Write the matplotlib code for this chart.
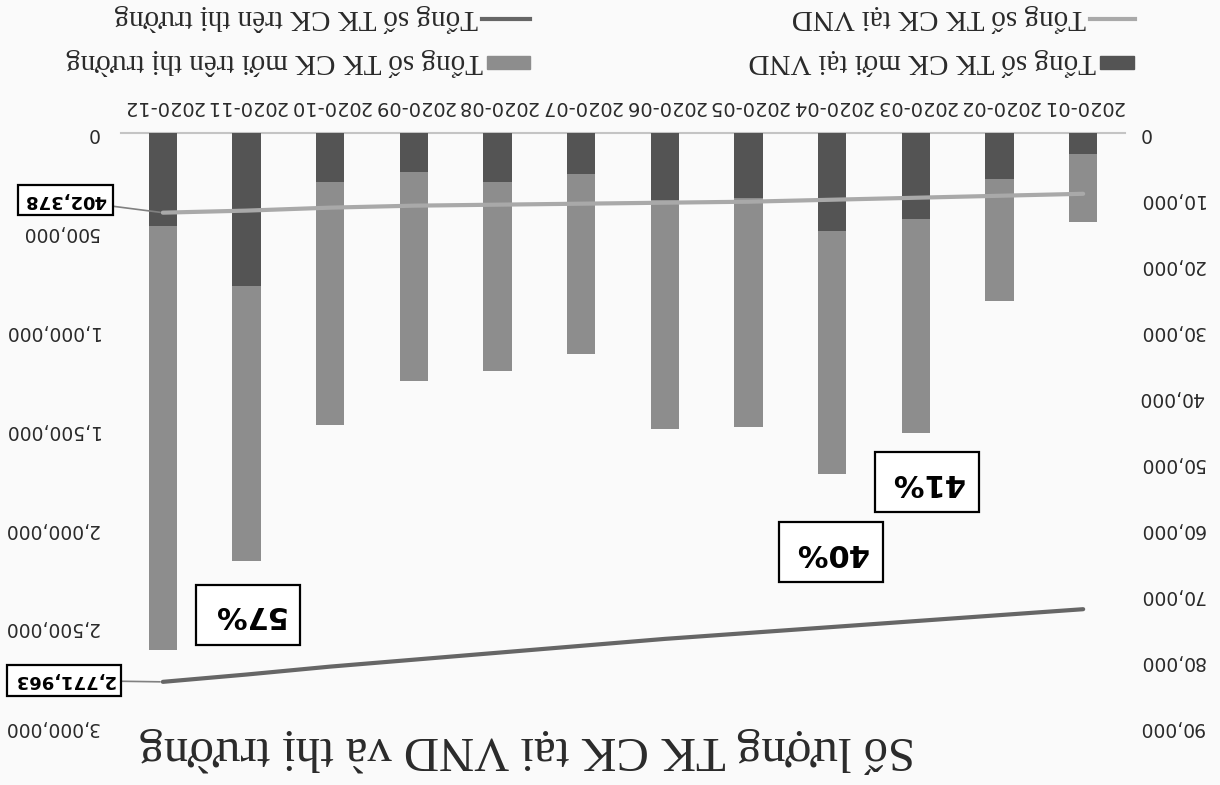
"""Số lượng TK CK tại VND và thị trường - scanned chart, drawn upside down like the scan."""

import matplotlib
matplotlib.use("Agg")
import matplotlib.pyplot as plt
from matplotlib.patches import Rectangle
from matplotlib.lines import Line2D
from matplotlib.ticker import FuncFormatter
import numpy as np

# Data
months = ["2020-01", "2020-02", "2020-03", "2020-04", "2020-05", "2020-06",
          "2020-07", "2020-08", "2020-09", "2020-10", "2020-11", "2020-12"]
new_vnd = [3200, 7000, 13000, 14900, 9800, 10200, 6200, 7400, 5900, 7400, 23200, 14100]
new_market = [13500, 25500, 45400, 51700, 44500, 44900, 33500, 36000, 37600, 44300, 64900, 78300]
total_vnd = [307000, 317000, 327000, 337000, 347000, 352000,
             357000, 362000, 367000, 377000, 392000, 402378]
total_market = [2405000, 2435000, 2465000, 2495000, 2525000, 2555000,
                2590000, 2625000, 2660000, 2695000, 2735000, 2771963]
share_labels = ["57%", "40%", "41%"]

legend_labels = ["Tổng số TK CK mới tại VND", "Tổng số TK CK mới trên thị trường",
                 "Tổng số TK CK tại VND", "Tổng số TK CK trên thị trường"]
title = "Số lượng TK CK tại VND và thị trường"

C_DARK = "#545454"
C_LIGHT = "#8d8d8d"
C_LINE_VND = "#a9a9a9"
C_LINE_MKT = "#666666"
TXT = "#2a2a2a"
BG = "#fafafa"

W, H = 1220, 785


def fx(px):
    return px / W


def fy(py):
    # image y (from top) -> figure fraction
    return (H - py) / H


fig = plt.figure(figsize=(12.2, 7.85), dpi=100, facecolor=BG)
ax = fig.add_axes([fx(121), fy(727), fx(1125) - fx(121), fy(133) - fy(727)])
ax.set_facecolor(BG)
ax2 = ax.twinx()

x = np.arange(len(months))
bw = 0.335

# The whole chart is turned 180 degrees, as in the scan
ax.bar(x, new_market, width=bw, color=C_LIGHT, zorder=2)
ax.bar(x, new_vnd, width=bw, color=C_DARK, zorder=3)
ax.set_xlim(11.5, -0.5)
ax.set_ylim(90000, 0)
ax.set_yticks(np.arange(0, 90001, 10000))

ax2.plot(x, total_vnd, color=C_LINE_VND, lw=3.0, solid_capstyle="round")
ax2.plot(x, total_market, color=C_LINE_MKT, lw=3.0, solid_capstyle="round")
ax2.set_ylim(3000000, 0)
ax2.set_yticks(np.arange(0, 3000001, 500000))

fmt = FuncFormatter(lambda v, p: f"{v:,.0f}")
ax.yaxis.set_major_formatter(fmt)
ax2.yaxis.set_major_formatter(fmt)

ax.yaxis.tick_right()
ax2.yaxis.tick_left()
ax.xaxis.tick_top()
ax.set_xticks(x)
ax.set_xticklabels(months)

ax.tick_params(axis="x", length=0, pad=12, labelsize=14, labelcolor=TXT, labelrotation=180)
ax.tick_params(axis="y", length=0, pad=10, labelsize=13.5, labelcolor=TXT, labelrotation=180)
ax2.tick_params(axis="y", length=0, pad=16, labelsize=13.5, labelcolor=TXT, labelrotation=180)
for lbl in ax.get_yticklabels() + ax2.get_yticklabels():
    lbl.set_va("center")

for a in (ax, ax2):
    for s in ("left", "right", "bottom", "top"):
        a.spines[s].set_visible(False)
ax.spines["top"].set_visible(True)
ax.spines["top"].set_color("#c4c4c4")
ax.spines["top"].set_linewidth(1.5)

# Data labels on the last points
box = dict(boxstyle="square,pad=0.35", fc="white", ec="black", lw=1.6)
ax2.annotate(f"{total_vnd[-1]:,}", xy=(11, total_vnd[-1]), xytext=(-70, 9),
             textcoords="offset points", rotation=180, ha="center", va="center",
             fontsize=13, fontweight="bold", color="black", bbox=box,
             arrowprops=dict(arrowstyle="-", color="#808080", lw=1.2,
                             shrinkA=0, shrinkB=2))
ax2.annotate(f"{total_market[-1]:,}", xy=(11, total_market[-1]), xytext=(-71, 1),
             textcoords="offset points", rotation=180, ha="center", va="center",
             fontsize=13, fontweight="bold", color="black", bbox=box,
             arrowprops=dict(arrowstyle="-", color="#808080", lw=1.2,
                             shrinkA=0, shrinkB=2))

# Percentage call-outs
share_pos = [(248, 615), (831, 552), (927, 482)]
for lab, (px, py) in zip(share_labels, share_pos):
    fig.text(fx(px), fy(py), lab, rotation=180, ha="center", va="center",
             fontsize=22, fontweight="bold", color="black",
             bbox=dict(boxstyle="square,pad=0.5", fc="white", ec="black", lw=1.6))

# Title (at the bottom, upside down)
fig.text(fx(527), fy(750), title, rotation=180, ha="center", va="center",
         fontsize=35, family="Liberation Serif", color=TXT)

# Legend, built by hand so it can be turned round
leg_font = dict(rotation=180, ha="right", va="center", fontsize=21,
                family="Liberation Serif", color=TXT)
# bar keys (row nearer the plot)
fig.add_artist(Rectangle((fx(1100), fy(69)), fx(1134) - fx(1100), fy(56) - fy(69),
                         transform=fig.transFigure, color=C_DARK))
fig.text(fx(1096), fy(62), legend_labels[0], **leg_font)
fig.add_artist(Rectangle((fx(487), fy(69)), fx(530) - fx(487), fy(56) - fy(69),
                         transform=fig.transFigure, color=C_LIGHT))
fig.text(fx(483), fy(62), legend_labels[1], **leg_font)
# line keys (outer row)
fig.add_artist(Line2D([fx(1090), fx(1135)], [fy(19), fy(19)], transform=fig.transFigure,
                      color=C_LINE_VND, lw=3.0))
fig.text(fx(1086), fy(18), legend_labels[2], **leg_font)
fig.add_artist(Line2D([fx(482), fx(530)], [fy(19), fy(19)], transform=fig.transFigure,
                      color=C_LINE_MKT, lw=3.0))
fig.text(fx(478), fy(18), legend_labels[3], **leg_font)

fig.savefig("out.png", dpi=100, facecolor=BG)
